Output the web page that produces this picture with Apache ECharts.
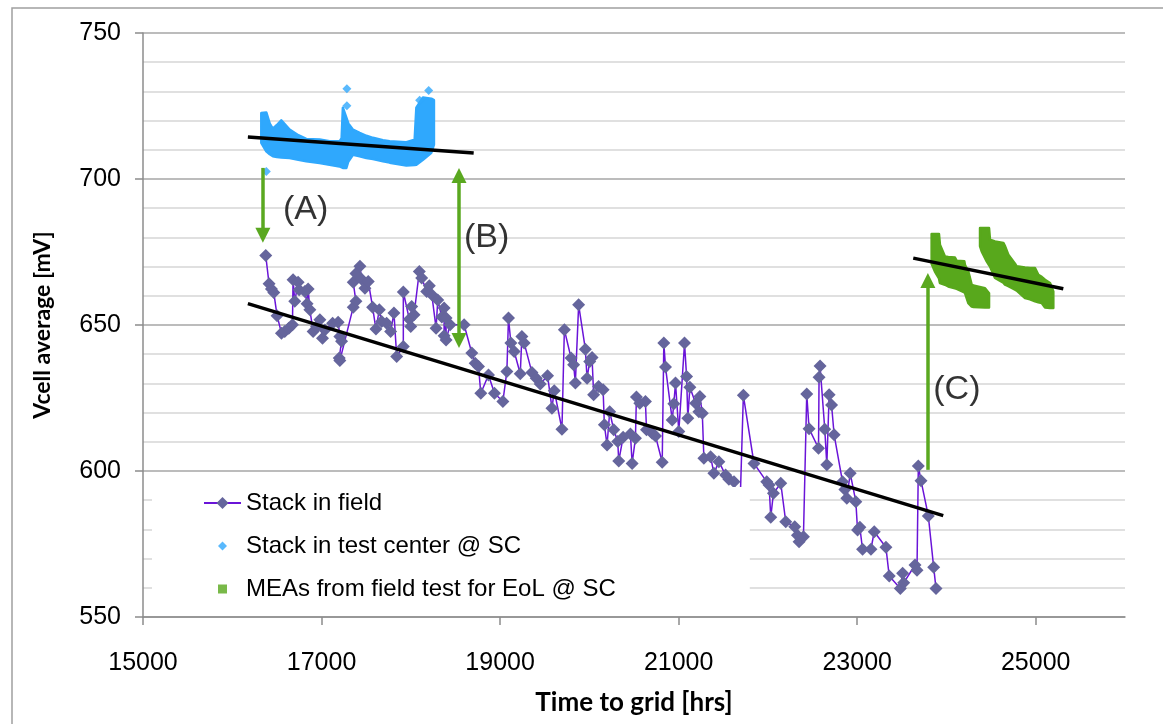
<!DOCTYPE html>
<html>
<head>
<meta charset="utf-8">
<script src="https://cdn.jsdelivr.net/npm/echarts@6/dist/echarts.min.js"></script>
<style>html,body{margin:0;padding:0;background:#fff;}#c{width:1163px;height:724px;}</style>
</head>
<body>
<div id="c"></div>
<script>
// ---------- data ----------
const xTickLabels = [15000, 17000, 19000, 21000, 23000, 25000];
const yTickLabels = [550, 600, 650, 700, 750];

// Stack in field [hrs, mV]
const fieldData = [
[16375,673.8],[16412,664.1],[16439,662.3],[16465,661.1],[16502,653.2],[16551,647.2],[16588,647.8],[16633,648.9],[16674,650.1],[16681,665.5],[16700,658.1],[16738,664.6],[16749,662.1],[16813,661.5],[16838,657.3],[16850,662.3],[16869,655.2],[16906,647.8],[16944,649.5],[16981,651.8],[17011,645.5],[17037,648.3],[17124,650.6],[17186,650.9],[17205,646.1],[17224,644.4],[17198,638.7],[17205,637.8],[17355,656.1],[17385,658.1],[17355,664.6],[17385,667.6],[17430,670.1],[17449,665.7],[17486,662.6],[17523,664.9],[17572,656.1],[17609,648.6],[17647,655.2],[17673,651.2],[17729,650.6],[17774,647.8],[17811,654.1],[17842,639.2],[17916,642.6],[17916,661.3],[17983,652.0],[17999,649.5],[18010,656.3],[18036,653.5],[18095,668.3],[18122,666.1],[18178,661.5],[18207,663.4],[18235,660.4],[18283,648.9],[18302,658.6],[18347,652.7],[18373,655.8],[18373,646.3],[18395,652.4],[18395,644.9],[18440,650.1],[18597,650.1],[18683,640.4],[18721,636.9],[18758,635.8],[18784,626.6],[18870,632.9],[18937,626.6],[19031,623.8],[19076,634.1],[19094,652.4],[19121,643.8],[19158,640.9],[19226,633.3],[19244,646.1],[19270,643.8],[19357,633.7],[19405,631.8],
[19450,629.8],[19532,632.6],[19581,621.5],[19607,627.5],[19693,614.3],[19720,648.4],[19795,638.7],[19824,636.4],[19843,630.1],[19880,656.9],[19955,641.7],[19974,631.8],[20004,637.5],[20030,638.9],[20048,626.1],[20104,628.9],[20154,627.8],[20168,615.8],[20198,608.9],[20228,620.3],[20273,614.1],[20318,610.1],[20329,603.4],[20378,611.6],[20460,612.7],[20479,602.6],[20516,611.2],[20527,625.3],[20565,623.2],[20628,623.8],[20640,614.1],[20703,612.9],[20741,612.0],[20816,603.0],[20834,643.8],[20853,635.6],[20928,617.5],[20946,623.0],[20965,630.1],[21002,613.5],[21066,643.8],[21089,632.4],[21103,618.1],[21126,628.7],[21190,623.2],[21227,620.3],[21238,625.5],[21265,619.8],[21283,604.4],[21358,604.9],[21395,599.2],[21451,603.2],[21526,598.6],[21563,597.2],[21620,596.3],[21680,580.0],[21725,625.9],[21844,602.6],[21987,596.3],[22013,595.2],[22032,584.2],[22062,592.4],[22144,595.8],[22200,582.6],[22301,580.9],[22331,578.0],[22349,575.8],[22398,577.5],[22435,626.4],[22461,614.5],[22567,607.8],[22573,632.1],[22584,636.0],[22637,614.3],[22660,602.1],[22686,626.1],[22713,622.6],[22742,612.4],[22836,596.3],[22862,593.7],[22884,590.7],[22922,599.2],[22985,589.5],[23004,579.8],[23030,580.7],[23060,573.2],[23154,573.2],[23191,579.2],[23322,573.9],[23359,564.0],[23483,559.8],[23509,565.0],[23521,561.7],[23648,567.8],[23670,566.0],[23685,601.7],[23715,596.7],[23797,584.6],[23857,567.0],[23883,559.8]
];

// Stack in test center @ SC: dense cloud envelope [hrs, low mV, high mV] and isolated points
const testBand = [
[16325,712.4,722.6],[16381,709.5,722.8],[16420,708.5,719.0],[16455,707.8,717.2],[16500,707.5,718.5],[16549,707.4,720.1],[16642,707.2,716.9],[16740,706.6,715.0],[16829,706.1,713.7],[16978,705.5,713.5],[17090,704.9,712.9],[17202,704.3,712.9],[17225,704.0,714.0],[17239,703.8,724.4],[17278,703.8,721.0],[17300,706.0,719.0],[17352,708.3,716.9],[17427,707.8,715.8],[17502,707.2,714.8],[17576,706.8,714.1],[17688,706.1,713.3],[17763,705.6,712.9],[17950,704.6,712.6],[18043,704.8,713.5],[18062,704.9,724.4],[18136,706.6,727.9],[18230,709.0,727.5],[18259,711.8,727.0]
];
const testPoints = [[16381,702.6],[17284,730.9],[17284,725.1],[18099,727.0],[18200,730.3]];

// MEAs from field test for EoL @ SC: two dense clouds [hrs, low mV, high mV]
const eolBand1 = [
[23834,671.0,681.2],[23871,668.3,681.2],[23916,666.0,681.2],[23927,664.4,677.5],[23983,663.8,673.5],[24020,663.2,673.3],[24095,662.6,673.1],[24115,662.4,672.0],[24200,661.2,671.8],[24208,660.9,670.5],[24245,657.5,668.3],[24283,656.3,663.8],[24301,656.2,663.5],[24432,656.0,662.6],[24477,656.0,660.9]
];
const eolBand2 = [
[24376,677.0,683.2],[24395,675.2,683.2],[24451,671.8,683.2],[24477,670.5,683.2],[24488,670.0,679.2],[24544,666.1,678.6],[24637,664.5,678.1],[24656,663.8,677.0],[24693,663.3,674.1],[24768,662.1,671.0],[24787,661.8,670.1],[24880,659.2,669.7],[24936,658.8,669.5],[24992,658.1,669.5],[25029,657.8,667.2],[25067,657.5,666.5],[25104,656.0,665.5],[25160,655.8,664.4],[25197,655.8,661.5]
];

// Trend lines
const fieldTrend = [[16175,657.3],[23964,584.7]];
const testTrend = [[16175,714.4],[18704,708.9]];
const eolTrend = [[23628,672.9],[25309,662.4]];

// Arrows [hrs, from mV, to mV] (head centres)
const arrowA = [16343, 703.8, 680.7];
const arrowB = [18540, 701.2, 644.7];
const arrowC = [23792, 600.4, 665.2];
const notes = [[16821,689.5,'(A)'],[18850,679.9,'(B)'],[24117,627.8,'(C)']];

const names = ['Stack in field','Stack in test center @ SC','MEAs from field test for EoL @ SC'];

// ---------- chart ----------
const BLUE = '#2fa8fd', GREEN = '#58a81c', FIELD = '#65659c', FLINE = '#6a14d8', ARROW = '#5aa820';
const FONT = 'Liberation Sans, Arial, sans-serif';

function bandRender(rows, color) {
  return function (params, api) {
    if (params.dataIndex !== 0) return null;
    const up = rows.map(r => api.coord([r[0], r[2]]));
    const lo = rows.slice().reverse().map(r => api.coord([r[0], r[1]]));
    return { type: 'polygon', shape: { points: up.concat(lo) },
      style: { fill: color, stroke: color, lineWidth: 2.5, lineJoin: 'round' } };
  };
}
function trend(d) {
  return { type: 'line', data: d, symbol: 'none', z: 5, silent: true,
    lineStyle: { color: '#000', width: 3.5 } };
}

const chart = echarts.init(document.getElementById('c'), null, { renderer: 'canvas' });
chart.setOption({
  animation: false,
  backgroundColor: '#fff',
  graphic: [{ type: 'polyline', shape: { points: [[12, 724], [12, 8], [1163, 8]] },
    style: { stroke: '#a0a0a0', lineWidth: 1.5, fill: null }, silent: true }],
  grid: { left: 143, right: 38, top: 33, bottom: 107 },
  xAxis: {
    type: 'value', min: 15000, max: 26000, interval: 1000,
    name: 'Time to grid [hrs]', nameLocation: 'middle', nameGap: 73,
    nameTextStyle: { fontFamily: 'Lato, sans-serif', fontWeight: 'bold', fontSize: 26, color: '#000' },
    axisLine: { show: true, lineStyle: { color: '#8c8c8c', width: 1.5 } },
    axisTick: { show: true, length: 8, customValues: xTickLabels, lineStyle: { color: '#8c8c8c', width: 1.5 } },
    axisLabel: { customValues: xTickLabels, margin: 34, fontSize: 25, fontFamily: FONT, color: '#000',
      formatter: v => (xTickLabels.indexOf(v) >= 0 ? String(v) : '') },
    splitLine: { show: false }
  },
  yAxis: {
    type: 'value', min: 550, max: 750, interval: 50,
    name: 'Vcell average [mV]', nameLocation: 'middle', nameGap: 89,
    nameTextStyle: { fontFamily: 'Lato, sans-serif', fontWeight: 'bold', fontSize: 23, color: '#000' },
    axisLine: { show: true, lineStyle: { color: '#8c8c8c', width: 1.5 } },
    axisTick: { show: true, length: 8, lineStyle: { color: '#8c8c8c', width: 1.5 } },
    axisLabel: { margin: 22, fontSize: 25, fontFamily: FONT, color: '#000',
      formatter: v => (yTickLabels.indexOf(v) >= 0 ? String(v) : '') },
    splitLine: { show: true, lineStyle: { color: '#a6a6a6', width: 1.5 } },
    minorTick: { show: false, splitNumber: 5 },
    minorSplitLine: { show: true, lineStyle: { color: '#d6d6d6', width: 1.5 } }
  },
  legend: {
    orient: 'vertical', left: 152, top: 487,
    backgroundColor: '#fff',
    padding: [4, 134, 5, 51],
    itemWidth: 37, itemHeight: 15, itemGap: 19,
    selectedMode: false,
    textStyle: { fontSize: 24, fontFamily: FONT, color: '#000' },
    data: [
      { name: names[0] },
      { name: names[1], icon: 'path://M0,0M15,15M7.5,3L12,7.5L7.5,12L3,7.5Z' },
      { name: names[2], icon: 'path://M0,0M15,15M3,3L12,3L12,12L3,12Z' }
    ]
  },
  series: [
    { name: names[1], type: 'scatter', data: testPoints, symbol: 'diamond', symbolSize: 9,
      itemStyle: { color: BLUE }, z: 2 },
    { name: names[1], type: 'custom', data: testBand, encode: { x: 0, y: 1 },
      renderItem: bandRender(testBand, BLUE), z: 2 },
    { name: names[2], type: 'scatter', data: [], symbol: 'rect', symbolSize: 8,
      itemStyle: { color: GREEN } },
    { name: names[2], type: 'custom', data: eolBand1, encode: { x: 0, y: 1 },
      renderItem: bandRender(eolBand1, GREEN), itemStyle: { color: GREEN }, z: 2 },
    { name: names[2], type: 'custom', data: eolBand2, encode: { x: 0, y: 1 },
      renderItem: bandRender(eolBand2, GREEN), itemStyle: { color: GREEN }, z: 2 },
    { name: names[0], type: 'line', data: fieldData, symbol: 'diamond', symbolSize: 13,
      showAllSymbol: true, itemStyle: { color: FIELD }, lineStyle: { color: FLINE, width: 1.5 }, z: 3 },
    trend(fieldTrend), trend(testTrend), trend(eolTrend),
    { type: 'scatter', data: notes, symbolSize: 1, itemStyle: { color: 'rgba(0,0,0,0)' }, silent: true, z: 6,
      label: { show: true, position: 'inside', formatter: p => p.value[2], fontSize: 34, fontFamily: FONT, color: '#000' },
      markLine: {
        silent: true, animation: false, symbolSize: [15, 15],
        label: { show: false },
        lineStyle: { color: ARROW, width: 3.5, type: 'solid' },
        data: [
          [{ coord: [arrowA[0], arrowA[1]], symbol: 'none' }, { coord: [arrowA[0], arrowA[2]], symbol: 'triangle' }],
          [{ coord: [arrowB[0], arrowB[1]], symbol: 'triangle' }, { coord: [arrowB[0], arrowB[2]], symbol: 'triangle' }],
          [{ coord: [arrowC[0], arrowC[1]], symbol: 'none' }, { coord: [arrowC[0], arrowC[2]], symbol: 'triangle' }]
        ]
      }
    }
  ]
});
</script>
</body>
</html>
